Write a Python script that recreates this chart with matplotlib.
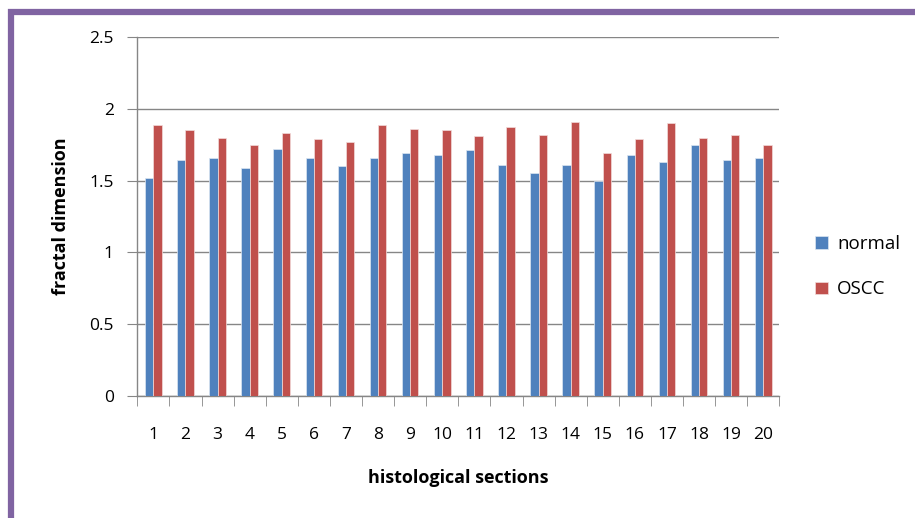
import numpy as np
import matplotlib
matplotlib.use("Agg")
from matplotlib import pyplot as plt
from matplotlib.patches import Rectangle

plt.rcParams['font.family'] = ['Open Sans', 'DejaVu Sans']

# data
sections = [str(i) for i in range(1, 21)]
normal = [1.52, 1.64, 1.66, 1.59, 1.72, 1.66, 1.60, 1.66, 1.69, 1.68,
          1.71, 1.61, 1.55, 1.61, 1.50, 1.68, 1.63, 1.75, 1.64, 1.66]
oscc = [1.89, 1.85, 1.80, 1.75, 1.83, 1.79, 1.77, 1.89, 1.86, 1.85,
        1.81, 1.87, 1.82, 1.91, 1.69, 1.79, 1.90, 1.80, 1.82, 1.75]
yticks = [0, 0.5, 1, 1.5, 2, 2.5]

blue = '#4F81BD'
red = '#C0504D'
grid_col = '#868686'

fig = plt.figure(figsize=(9.15, 5.18), dpi=100, facecolor='w')

# purple frame (only top and left edges are visible)
fig.patches.append(Rectangle((10.5 / 915, -0.1), 1.2, 1.1 - 12.5 / 518,
                             transform=fig.transFigure, fill=False,
                             edgecolor='#8064A2', linewidth=4.5))

ax = fig.add_axes([137.3 / 915, 1 - 396 / 518, 642 / 915, 359 / 518])

x = np.arange(len(sections))
w = 0.26
ax.bar(x - w / 2, normal, w, color=blue, edgecolor='#DCE6F2', linewidth=0.5,
       label='normal', zorder=3)
ax.bar(x + w / 2, oscc, w, color=red, edgecolor='#F2DCDB', linewidth=0.5,
       label='OSCC', zorder=3)

ax.set_xlim(-0.5, len(sections) - 0.5)
ax.set_ylim(0, 2.5)
ax.set_yticks(yticks)
ax.set_yticklabels(['0', '0.5', '1', '1.5', '2', '2.5'])
ax.set_xticks(x)
ax.set_xticklabels(sections)
ax.set_xticks(np.arange(len(sections) + 1) - 0.5, minor=True)

ax.yaxis.grid(True, color=grid_col, linewidth=1.0, zorder=0)
ax.set_axisbelow(True)
for s in ['top', 'right']:
    ax.spines[s].set_visible(False)
for s in ['left', 'bottom']:
    ax.spines[s].set_color(grid_col)
    ax.spines[s].set_linewidth(1.0)

ax.tick_params(axis='y', length=7, color=grid_col, labelsize=12.5, pad=10)
ax.tick_params(axis='x', which='major', length=0, labelsize=12.5, pad=22)
ax.tick_params(axis='x', which='minor', length=7, color=grid_col)

ax.set_xlabel('histological sections', fontsize=13, fontweight='bold',
              labelpad=19)
ax.set_ylabel('fractal dimension', fontsize=13, fontweight='bold',
              labelpad=14)

leg = ax.legend(loc='center left', bbox_to_anchor=(1.03, 0.36), frameon=False,
                fontsize=13.5, handlelength=0.65, handleheight=0.65,
                handletextpad=0.5, labelspacing=1.45)

fig.savefig('out.png', dpi=100)
plt.close(fig)
